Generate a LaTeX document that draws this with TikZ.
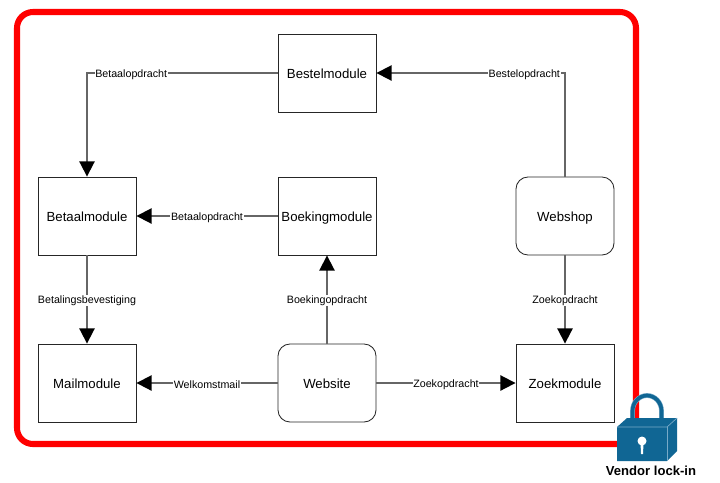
\documentclass[tikz,border=0pt]{standalone}
\usepackage{fontspec}
\setmainfont{Liberation Sans}
\usepackage{tikz}
\usetikzlibrary{arrows.meta, positioning}
\definecolor{lock_blue}{RGB}{16, 102, 148}
\definecolor{lock_light}{RGB}{120, 170, 200}
\begin{document}
\begin{tikzpicture}[
        x=0.025cm, y=-0.025cm,
        mbox/.style={rectangle, minimum width=2.45cm, minimum height=1.95cm,
                     inner sep=0pt, font=\fontsize{9.4}{11}\selectfont, align=center,
                     text height=7.7pt, text depth=0pt,
                     draw=black!85, line width=0.6pt},
        rmbox/.style={mbox, rounded corners=0.3cm},
        arr/.style={-{Triangle[length=0.38cm, width=0.38cm, color=black, fill=black]},
                    draw=black!60, line width=1.3pt},
        lbl/.style={font=\fontsize{7.6}{9}\selectfont, fill=white, inner sep=0.5pt, text=black, yshift=-0.9pt},
      ]
        \useasboundingbox (0,0) rectangle (720,482);

        \draw[red, line width=4.3pt, rounded corners=0.4cm] (17,12) rectangle (636,444);

        \node[mbox] (bestel) at (327,73) {Bestelmodule};
        \node[mbox] (betaal) at (87,216) {Betaalmodule};
        \node[mbox] (boeking) at (327,216) {Boekingmodule};
        \node[rmbox] (webshop) at (565,216) {Webshop};
        \node[mbox] (mail) at (87,383) {Mailmodule};
        \node[rmbox] (website) at (327,383) {Website};
        \node[mbox] (zoek) at (565,383) {Zoekmodule};

        \draw[arr] (bestel.west) -| node[lbl, pos=0.384] {Betaalopdracht} (betaal.north);
        \draw[arr] (webshop.north) |- node[lbl, pos=0.608] {Bestelopdracht} (bestel.east);
        \draw[arr] (boeking.west) -- node[lbl] {Betaalopdracht} (betaal.east);
        \draw[arr] (betaal.south) -- node[lbl] {Betalingsbevestiging} (mail.north);
        \draw[arr] (website.north) -- node[lbl] {Boekingopdracht} (boeking.south);
        \draw[arr] (website.west) -- node[lbl] {Welkomstmail} (mail.east);
        \draw[arr] (website.east) -- node[lbl] {Zoekopdracht} (zoek.west);
        \draw[arr] (webshop.south) -- node[lbl] {Zoekopdracht} (zoek.north);

        \draw[lock_light, line width=3.4pt]
          (632.5,425) -- (632.5,411) arc[start angle=180, end angle=360, x radius=14.5, y radius=15.5] -- (661.5,425);
        \draw[lock_blue, line width=2.6pt]
          (632.5,425) -- (632.5,411) arc[start angle=180, end angle=360, x radius=14.5, y radius=15.5] -- (661.5,425);
        \fill[lock_blue] (617,427) -- (627,418) -- (677,418) -- (677,451) -- (667,461) -- (617,461) -- cycle;
        \draw[lock_light, line width=0.5pt] (617,427) -- (667,427) -- (677,418);
        \draw[lock_light, line width=0.5pt] (667,427) -- (667,461);
        \fill[white] (642,441) circle[radius=4.5];
        \fill[white] (640.5,443) -- (643.5,443) -- (643,454) -- (641,454) -- cycle;

        \node[font=\fontsize{9.3}{11}\selectfont\bfseries] (vendor) at (651,471) {Vendor lock-in};
      \end{tikzpicture}
\end{document}
